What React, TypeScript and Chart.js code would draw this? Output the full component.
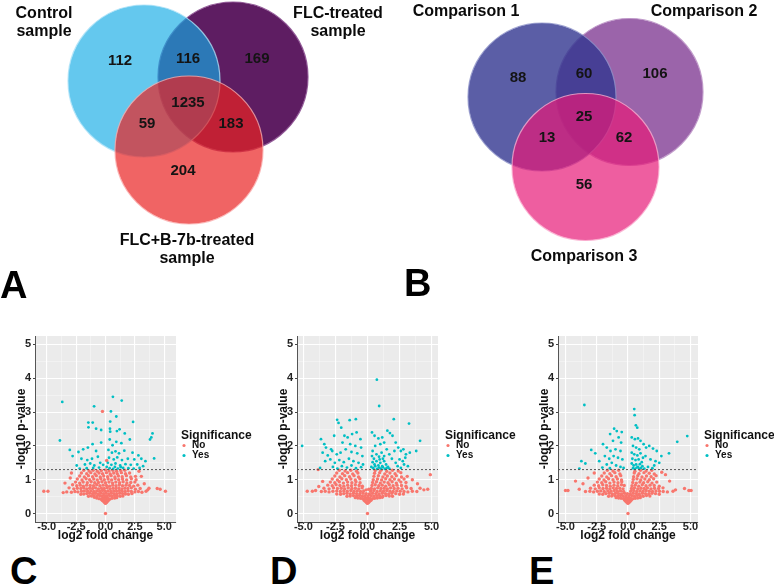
import React, { useEffect, useRef } from 'react';
import { Chart, registerables } from 'chart.js';

Chart.register(...registerables);

const FONT = '"Liberation Sans", Arial, Helvetica, sans-serif';

// ---------------- Venn data ----------------
const VENN_A_SETS = [['Control', 'sample'], ['FLC-treated', 'sample'], ['FLC+B-7b-treated', 'sample']];
// regions: Control only, Control∩FLC, FLC only, all three, Control∩FLC+B, FLC∩FLC+B, FLC+B only
const VENN_A_COUNTS = [112, 116, 169, 1235, 59, 183, 204];

const VENN_B_SETS = [['Comparison 1'], ['Comparison 2'], ['Comparison 3']];
// regions: C1 only, C1∩C2, C2 only, all three, C1∩C3, C2∩C3, C3 only
const VENN_B_COUNTS = [88, 60, 106, 25, 13, 62, 56];

// ---------------- Volcano data ----------------
const THRESHOLD = 1.3; // -log10(0.05)
const Y_TICKS = [0, 1, 2, 3, 4, 5];
const X_TICKS = [-5, -2.5, 0, 2.5, 5];
const LEGEND_TITLE = 'Significance';
const SIG_LABELS = ['No', 'Yes'];
const PANEL_LETTERS = ['A', 'B', 'C', 'D', 'E'];

// [x, y, x, y, ...]  (log2 fold change, -log10 p-value)
const C_YES = [
  -3.68, 3.30, 0.63, 3.45, 1.38, 3.34, -0.97, 3.17, 0.46, 3.02, 0.92, 2.87, -1.46, 2.69, -1.09, 2.69,
  0.40, 2.72, 2.35, 2.71, -1.45, 2.55, -0.80, 2.51, 0.38, 2.51, -0.37, 2.47, 1.20, 2.49, 0.40, 2.42,
  0.97, 2.44, 1.64, 2.37, 4.00, 2.37, 3.90, 2.25, 3.79, 2.19, -3.88, 2.16, -0.37, 2.10, 0.36, 2.19,
  0.92, 2.12, 1.35, 2.08, 2.07, 2.19, -1.10, 2.05, 0.60, 2.02, -3.04, 1.88, -2.80, 1.70, -2.30, 1.82,
  -1.90, 1.90, -1.50, 1.95, -0.80, 1.85, 0.25, 1.88, 0.55, 1.80, 0.85, 1.84, 1.15, 1.78, 1.60, 1.86,
  2.30, 1.80, 2.80, 1.72, 4.14, 1.63, -2.05, 1.62, -1.55, 1.58, -1.15, 1.62, -0.65, 1.68, 0.30, 1.65,
  0.70, 1.60, 1.00, 1.66, 1.40, 1.58, 1.90, 1.62, 2.45, 1.60, 3.05, 1.62, 3.40, 1.55, -2.45, 1.42,
  -1.75, 1.45, -1.30, 1.48, -0.95, 1.42, -0.45, 1.50, 0.20, 1.50, 0.50, 1.44, 0.85, 1.48, 1.25, 1.42,
  1.70, 1.46, 2.15, 1.44, 2.70, 1.45, 3.20, 1.40, -2.20, 1.33, -1.60, 1.34, -1.05, 1.35, -0.55, 1.36,
  0.35, 1.34, 0.65, 1.32, 1.05, 1.33, 1.50, 1.35, 1.95, 1.34, 2.40, 1.33, 2.90, 1.35, 0.10, 1.38,
  -0.20, 1.44, 0.80, 1.38, 1.30, 1.37,
];
const C_NO = [
  0.00, 0.30, -0.08, 0.33, 0.09, 0.33, -0.18, 0.36, 0.17, 0.36, -0.02, 0.37, -0.28, 0.39, 0.27, 0.40, 0.05, 0.41, -0.12, 0.42,
  -0.75, 0.46, -0.55, 0.44, -0.38, 0.43, -0.20, 0.46, 0.00, 0.47, 0.20, 0.45, 0.38, 0.43, 0.56, 0.45, 0.78, 0.46, 0.95, 0.47, -0.95, 0.48,
  -1.45, 0.51, -1.20, 0.52, -0.98, 0.53, -0.72, 0.52, -0.50, 0.53, -0.30, 0.51, -0.08, 0.53, 0.12, 0.52, 0.34, 0.53, 0.55, 0.51,
  0.78, 0.53, 1.00, 0.52, 1.25, 0.51, 1.48, 0.52,
  -2.10, 0.57, -1.85, 0.58, -1.60, 0.59, -1.35, 0.60, -1.10, 0.59, -0.85, 0.60, -0.62, 0.58, -0.40, 0.60, -0.18, 0.59, 0.05, 0.60,
  0.28, 0.58, 0.50, 0.60, 0.72, 0.59, 0.95, 0.58, 1.20, 0.60, 1.45, 0.59, 1.70, 0.58, 1.95, 0.57, 2.25, 0.59,
  -3.30, 0.64, -2.90, 0.63, -2.60, 0.65, -2.35, 0.64, -2.05, 0.66, -1.80, 0.67, -1.52, 0.66, -1.25, 0.67, -1.00, 0.65, -0.75, 0.67,
  -0.50, 0.66, -0.26, 0.68, -0.02, 0.66, 0.22, 0.67, 0.46, 0.65, 0.70, 0.67, 0.94, 0.66, 1.18, 0.68, 1.42, 0.66, 1.68, 0.65,
  1.93, 0.67, 2.20, 0.65, 2.50, 0.64, 2.80, 0.65, 3.10, 0.63, 3.45, 0.66,
  -3.10, 0.76, -2.70, 0.73, -2.40, 0.75, -2.10, 0.74, -1.85, 0.76, -1.60, 0.73, -1.35, 0.75, -1.10, 0.74, -0.85, 0.76, -0.60, 0.73,
  -0.35, 0.75, -0.10, 0.74, 0.15, 0.76, 0.40, 0.73, 0.65, 0.75, 0.90, 0.74, 1.15, 0.76, 1.40, 0.73, 1.65, 0.75, 1.90, 0.74,
  2.20, 0.76, 2.55, 0.72, 2.95, 0.74, 3.60, 0.70,
  -2.80, 0.85, -2.45, 0.82, -2.15, 0.84, -1.88, 0.81, -1.60, 0.84, -1.30, 0.83, -1.02, 0.82, -0.75, 0.85, -0.48, 0.82, -0.20, 0.84,
  0.08, 0.83, 0.35, 0.81, 0.62, 0.84, 0.90, 0.82, 1.18, 0.85, 1.45, 0.82, 1.75, 0.84, 2.05, 0.83, 2.40, 0.81, 2.75, 0.84,
  -2.55, 0.93, -2.20, 0.90, -1.90, 0.93, -1.55, 0.91, -1.22, 0.94, -0.92, 0.91, -0.60, 0.92, -0.30, 0.94, 0.00, 0.91, 0.30, 0.93,
  0.60, 0.90, 0.88, 0.93, 1.20, 0.91, 1.50, 0.94, 1.82, 0.90, 2.15, 0.92, 2.50, 0.93,
  -2.40, 1.02, -2.00, 0.99, -1.65, 1.03, -1.35, 1.00, -1.00, 1.02, -0.70, 0.99, -0.40, 1.03, -0.10, 1.00, 0.22, 1.02, 0.52, 0.99,
  0.82, 1.03, 1.12, 1.00, 1.45, 1.02, 1.80, 0.99, 2.20, 1.03, 2.60, 1.00,
  -2.20, 1.11, -1.80, 1.08, -1.45, 1.12, -1.10, 1.09, -0.78, 1.12, -0.45, 1.08, -0.15, 1.11, 0.18, 1.09, 0.48, 1.12, 0.80, 1.08,
  1.10, 1.11, 1.42, 1.09, 1.78, 1.12, 2.15, 1.08, 2.55, 1.10,
  -2.05, 1.20, -1.60, 1.18, -1.25, 1.21, -0.90, 1.17, -0.55, 1.20, -0.25, 1.18, 0.08, 1.21, 0.40, 1.17, 0.70, 1.20, 1.00, 1.18,
  1.35, 1.21, 1.70, 1.18, 2.05, 1.20,
  -1.85, 1.28, -1.40, 1.26, -1.05, 1.28, -0.70, 1.25, -0.35, 1.27, 0.00, 1.29, 0.30, 1.26, 0.62, 1.28, 0.95, 1.25, 1.30, 1.27, 1.65, 1.28,
  -5.25, 0.66, -4.90, 0.66, 4.40, 0.74, 4.65, 0.72, 5.10, 0.66, -3.60, 0.62, -3.45, 0.90, -3.00, 1.05, 3.30, 0.88, 3.70, 0.75,
  3.05, 1.10, -0.26, 3.02, 0.10, 1.57, 0.00, 0.00, -2.90, 1.20, 2.85, 1.25,
];

const D_YES = [
  0.73, 3.96, 0.91, 3.18, -2.37, 2.77, -2.26, 2.68, -1.39, 2.76, -0.91, 2.79, -2.05, 2.54, 2.05, 2.79, 3.24, 2.66,
  -5.10, 2.00, -3.63, 2.20, -3.37, 2.05, -3.24, 1.95, -2.84, 1.90,
  -1.80, 2.30, -1.55, 2.25, -1.20, 2.35, -0.85, 2.40, -0.55, 2.20, -2.60, 2.30, -1.95, 2.10, -1.35, 2.05, -0.95, 2.00, -0.50, 1.95,
  -3.50, 1.80, -3.10, 1.72, -2.75, 1.85, -2.40, 1.75, -2.10, 1.80, -1.70, 1.90, -1.25, 1.82, -0.80, 1.78, -0.40, 1.70,
  -3.30, 1.55, -2.90, 1.60, -2.55, 1.50, -2.20, 1.58, -1.85, 1.52, -1.45, 1.62, -1.10, 1.55, -0.70, 1.50, -0.35, 1.45,
  -3.70, 1.35, -2.70, 1.38, -2.35, 1.33, -2.00, 1.40, -1.60, 1.36, -1.25, 1.42, -0.90, 1.34, -0.50, 1.37,
  0.35, 2.40, 0.55, 2.30, 0.85, 2.22, 1.15, 2.25, 1.30, 2.10, 1.55, 2.45, 1.75, 2.38, 1.95, 2.30, 2.20, 2.10, 1.00, 2.05,
  0.60, 2.00, 0.40, 1.85,
  0.35, 1.70, 0.50, 1.62, 0.70, 1.75, 0.90, 1.68, 1.10, 1.80, 1.30, 1.70, 1.50, 1.90, 1.70, 1.75, 1.90, 1.62, 2.10, 1.85,
  0.40, 1.52, 0.55, 1.45, 0.70, 1.55, 0.85, 1.42, 1.00, 1.50, 1.15, 1.40, 1.30, 1.55, 1.45, 1.45, 1.60, 1.38,
  0.30, 1.38, 0.45, 1.34, 0.60, 1.40, 0.75, 1.32, 0.90, 1.36, 1.05, 1.33, 1.20, 1.37, 1.35, 1.32, 1.50, 1.35, 1.70, 1.33,
  0.95, 1.60, 1.20, 1.62,
  2.40, 1.95, 2.60, 1.85, 2.80, 1.90, 3.00, 1.75, 2.50, 1.60, 2.75, 1.55, 2.95, 1.65, 2.35, 1.40, 2.60, 1.35, 2.85, 1.45,
  3.15, 1.40, 2.20, 1.50, 3.80, 1.85, 4.10, 2.15, 3.30, 1.80,
];
const D_NO = [
  0.00, 0.30, -0.08, 0.33, 0.09, 0.33, -0.18, 0.36, 0.17, 0.36, -0.28, 0.40, 0.27, 0.39, 0.02, 0.40, -0.10, 0.43, 0.12, 0.43,
  -0.95, 0.47, -0.75, 0.46, -0.55, 0.45, -0.38, 0.44, -0.20, 0.46, 0.00, 0.47, 0.20, 0.45, 0.38, 0.44, 0.56, 0.45, 0.76, 0.46,
  0.96, 0.47, 1.15, 0.48,
  -1.60, 0.51, -1.35, 0.52, -1.10, 0.53, -0.85, 0.52, -0.62, 0.53, -0.40, 0.51, -0.18, 0.53, 0.05, 0.52, 0.28, 0.53, 0.50, 0.51,
  0.72, 0.53, 0.95, 0.52, 1.20, 0.51, 1.45, 0.53, 1.70, 0.52, 1.95, 0.51,
  -2.40, 0.58, -2.10, 0.57, -1.85, 0.59, -1.60, 0.60, -1.35, 0.58, -1.10, 0.60, -0.85, 0.59, -0.60, 0.58, -0.35, 0.60, -0.10, 0.59,
  0.15, 0.58, 0.40, 0.60, 0.65, 0.59, 0.90, 0.58, 1.15, 0.60, 1.40, 0.59, 1.65, 0.58, 1.90, 0.60, 2.20, 0.59, 2.50, 0.57, 2.80, 0.58,
  -3.60, 0.65, -3.30, 0.66, -3.00, 0.64, -2.70, 0.66, -2.40, 0.67, -2.12, 0.65, -1.85, 0.67, -1.58, 0.66, -1.30, 0.68, -1.05, 0.66,
  -0.80, 0.67, -0.55, 0.65, -0.30, 0.67, 0.25, 0.66, 0.50, 0.68, 0.75, 0.65, 1.00, 0.67, 1.25, 0.66, 1.50, 0.68, 1.75, 0.66,
  2.00, 0.65, 2.28, 0.67, 2.55, 0.66, 2.85, 0.65, 3.15, 0.64, 3.50, 0.66, 3.85, 0.65,
  -3.40, 0.75, -3.00, 0.73, -2.65, 0.76, -2.35, 0.74, -2.05, 0.75, -1.78, 0.73, -1.50, 0.76, -1.22, 0.74, -0.95, 0.75, -0.68, 0.73,
  -0.42, 0.76, 0.30, 0.74, 0.55, 0.73, 0.80, 0.76, 1.05, 0.74, 1.30, 0.75, 1.55, 0.73, 1.80, 0.76, 2.08, 0.74, 2.38, 0.75,
  2.70, 0.73, 3.05, 0.76, 3.40, 0.74,
  -3.10, 0.84, -2.75, 0.82, -2.45, 0.85, -2.15, 0.83, -1.85, 0.81, -1.55, 0.84, -1.25, 0.82, -0.95, 0.85, -0.65, 0.83, -0.40, 0.81,
  0.35, 0.83, 0.60, 0.85, 0.88, 0.82, 1.15, 0.84, 1.42, 0.81, 1.70, 0.85, 2.00, 0.82, 2.30, 0.84, 2.65, 0.83, 3.00, 0.81,
  -2.90, 0.93, -2.55, 0.91, -2.20, 0.94, -1.88, 0.90, -1.55, 0.93, -1.22, 0.91, -0.90, 0.94, -0.58, 0.91, 0.40, 0.92, 0.70, 0.94,
  1.00, 0.90, 1.30, 0.93, 1.60, 0.91, 1.92, 0.94, 2.25, 0.90, 2.60, 0.93, 3.00, 0.92,
  -2.75, 1.02, -2.35, 0.99, -2.00, 1.03, -1.65, 1.00, -1.30, 1.02, -0.95, 0.99, -0.60, 1.03, 0.45, 1.00, 0.78, 1.02, 1.10, 0.99,
  1.42, 1.03, 1.75, 1.00, 2.10, 1.02, 2.45, 0.99, 2.85, 1.02,
  -2.55, 1.11, -2.15, 1.08, -1.78, 1.12, -1.40, 1.09, -1.05, 1.12, -0.70, 1.08, 0.50, 1.10, 0.85, 1.12, 1.20, 1.08, 1.55, 1.11,
  1.90, 1.09, 2.25, 1.12, 2.65, 1.08, 3.10, 1.10,
  -2.40, 1.20, -1.95, 1.18, -1.55, 1.21, -1.15, 1.17, -0.75, 1.20, 0.55, 1.19, 0.95, 1.21, 1.35, 1.17, 1.75, 1.20, 2.15, 1.18, 2.60, 1.21,
  -2.20, 1.28, -1.75, 1.26, -1.30, 1.28, -0.85, 1.25, 0.60, 1.27, 1.05, 1.28, 1.50, 1.25, 1.95, 1.28, 2.40, 1.26,
  -4.70, 0.66, -4.30, 0.66, -4.05, 0.68, -3.85, 1.30, -3.80, 0.80, -3.50, 0.95, 4.10, 0.75, 4.40, 0.70, 4.70, 0.72, 4.90, 1.15,
  3.50, 1.00, 3.90, 0.88, 0.00, 0.00, -0.10, 0.70, 0.10, 0.72,
];

const E_YES = [
  -3.49, 3.21, 0.50, 3.09, 0.53, 2.91, 0.63, 2.61, 0.74, 2.54, -1.11, 2.51, -0.90, 2.44, -0.50, 2.41, -1.43, 2.35, -0.75, 2.25,
  -1.20, 2.15, -0.55, 2.10, 3.94, 2.12, 4.74, 2.29, -2.94, 1.88, -2.62, 1.78, -3.73, 1.55, -3.41, 1.48, -3.89, 1.33, 3.28, 1.78,
  2.67, 1.70,
  0.30, 2.25, 0.55, 2.20, 0.80, 2.22, 1.00, 2.15, 1.25, 2.05, 0.40, 2.00, 0.65, 1.95, 0.90, 1.90, 1.45, 1.95, 1.70, 2.00,
  2.00, 1.92, 2.30, 1.85,
  0.30, 1.80, 0.50, 1.75, 0.75, 1.72, 1.00, 1.78, 1.20, 1.65, 0.35, 1.62, 0.60, 1.58, 0.85, 1.60, 1.10, 1.52, 1.40, 1.70,
  1.80, 1.60, 2.20, 1.55, 2.50, 1.50,
  0.30, 1.48, 0.45, 1.42, 0.65, 1.45, 0.80, 1.38, 0.95, 1.46, 1.15, 1.40, 0.40, 1.34, 0.55, 1.32, 0.70, 1.36, 0.90, 1.33,
  1.05, 1.35, 1.30, 1.33, 1.60, 1.38, 1.95, 1.34, 2.10, 1.42,
  -2.00, 2.05, -1.70, 1.95, -1.40, 1.85, -1.00, 1.90, -0.60, 1.85, -1.85, 1.70, -1.50, 1.62, -1.15, 1.70, -0.80, 1.65, -0.45, 1.60,
  -2.30, 1.55, -1.70, 1.45, -1.30, 1.50, -0.95, 1.42, -0.60, 1.38, -2.05, 1.36, -1.45, 1.34, -0.35, 1.35,
];
const E_NO = [
  0.00, 0.30, -0.08, 0.33, 0.09, 0.33, -0.18, 0.36, 0.18, 0.36, -0.28, 0.40, 0.27, 0.40, 0.02, 0.38, -0.12, 0.43, 0.13, 0.43,
  -0.95, 0.47, -0.75, 0.46, -0.55, 0.45, -0.35, 0.44, -0.18, 0.46, 0.02, 0.47, 0.22, 0.45, 0.40, 0.44, 0.58, 0.45, 0.78, 0.46, 0.98, 0.47,
  -1.55, 0.51, -1.30, 0.52, -1.05, 0.53, -0.82, 0.52, -0.60, 0.53, -0.38, 0.51, -0.15, 0.53, 0.08, 0.52, 0.30, 0.53, 0.52, 0.51,
  0.75, 0.53, 0.98, 0.52, 1.22, 0.51, 1.48, 0.53, 1.75, 0.52,
  -2.30, 0.58, -2.02, 0.57, -1.76, 0.59, -1.50, 0.60, -1.25, 0.58, -1.00, 0.60, -0.76, 0.59, -0.52, 0.58, -0.28, 0.60, -0.05, 0.59,
  0.18, 0.58, 0.42, 0.60, 0.66, 0.59, 0.90, 0.58, 1.15, 0.60, 1.40, 0.59, 1.66, 0.58, 1.92, 0.60, 2.20, 0.59, 2.50, 0.57,
  -3.40, 0.65, -3.05, 0.66, -2.75, 0.64, -2.45, 0.66, -2.18, 0.67, -1.90, 0.65, -1.62, 0.67, -1.36, 0.66, -1.10, 0.68, -0.85, 0.66,
  -0.60, 0.67, -0.35, 0.65, 0.22, 0.66, 0.46, 0.68, 0.70, 0.65, 0.95, 0.67, 1.20, 0.66, 1.45, 0.68, 1.70, 0.66, 1.96, 0.65,
  2.24, 0.67, 2.52, 0.66, 2.82, 0.65, 3.15, 0.64, 3.60, 0.66,
  -3.00, 0.75, -2.62, 0.73, -2.30, 0.76, -2.00, 0.74, -1.72, 0.75, -1.45, 0.73, -1.18, 0.76, -0.92, 0.74, -0.66, 0.75, -0.40, 0.73,
  0.28, 0.74, 0.52, 0.76, 0.78, 0.73, 1.04, 0.75, 1.30, 0.74, 1.56, 0.76, 1.84, 0.73, 2.12, 0.75, 2.45, 0.74, 2.80, 0.76,
  -2.70, 0.84, -2.35, 0.82, -2.02, 0.85, -1.72, 0.83, -1.42, 0.81, -1.12, 0.84, -0.82, 0.82, -0.52, 0.85, -0.30, 0.83, 0.32, 0.82,
  0.58, 0.84, 0.86, 0.81, 1.14, 0.85, 1.44, 0.82, 1.76, 0.84, 2.10, 0.83, 2.50, 0.81,
  -2.45, 0.93, -2.10, 0.91, -1.78, 0.94, -1.45, 0.90, -1.12, 0.93, -0.80, 0.91, -0.50, 0.94, 0.38, 0.92, 0.66, 0.90, 0.95, 0.93,
  1.25, 0.91, 1.58, 0.94, 1.92, 0.90, 2.30, 0.93,
  -2.30, 1.02, -1.92, 0.99, -1.55, 1.03, -1.20, 1.00, -0.85, 1.02, -0.52, 0.99, 0.42, 1.01, 0.72, 1.03, 1.02, 0.99, 1.35, 1.02,
  1.70, 1.00, 2.05, 1.03,
  -2.10, 1.11, -1.70, 1.08, -1.32, 1.12, -0.95, 1.09, -0.58, 1.12, 0.45, 1.09, 0.78, 1.12, 1.12, 1.08, 1.48, 1.11, 1.85, 1.09, 2.25, 1.12,
  -1.90, 1.20, -1.45, 1.18, -1.05, 1.21, -0.65, 1.17, 0.50, 1.20, 0.88, 1.18, 1.28, 1.21, 1.70, 1.19, 2.10, 1.17,
  -1.65, 1.28, -1.20, 1.26, -0.75, 1.28, 0.55, 1.25, 1.00, 1.28, 1.45, 1.26, 1.90, 1.28,
  -5.00, 0.68, -4.80, 0.68, -4.20, 0.96, -3.90, 0.72, -3.60, 0.88, -3.20, 1.05, 4.52, 0.74, 4.87, 0.68, 5.05, 0.68, 3.33, 0.96,
  3.00, 1.15, 3.80, 0.70, 0.00, 0.00, 2.70, 1.22, -2.70, 1.20,
];

// ---------------- Layout (positions / styles, not data) ----------------
const VENN_A_LAYOUT = {
  left: 0, top: 0, width: 390, height: 272,
  circles: [
    { cx: 144, cy: 81, r: 76, fill: 'rgba(17,171,229,0.65)', stroke: 'rgba(170,225,248,0.8)' },
    { cx: 233, cy: 77, r: 75, fill: 'rgb(94,29,98)', stroke: 'rgba(140,80,145,0.9)' },
    { cx: 189, cy: 150, r: 74, fill: 'rgba(234,34,34,0.7)', stroke: 'rgba(250,170,170,0.8)' },
  ],
  topToBottom: [2, 0, 1],
  countPos: [[120, 61], [188, 59], [257, 59], [188, 103], [147, 124], [231, 124], [183, 171]],
  labelPos: [[44, 14], [338, 14], [187, 241]],
  lineGap: 18,
};
const VENN_B_LAYOUT = {
  left: 390, top: 0, width: 384, height: 272,
  circles: [
    { cx: 152, cy: 97, r: 74, fill: 'rgba(50,54,144,0.8)', stroke: 'rgba(140,145,200,0.8)' },
    { cx: 239.5, cy: 92, r: 73.5, fill: 'rgb(155,100,170)', stroke: 'rgba(190,150,200,0.9)' },
    { cx: 195.5, cy: 167, r: 73.5, fill: 'rgba(231,26,119,0.7)', stroke: 'rgba(250,170,205,0.8)' },
  ],
  topToBottom: [2, 0, 1],
  countPos: [[128, 78], [194, 74], [265, 74], [194, 117], [157, 138], [234, 138], [194, 185]],
  labelPos: [[76, 12], [314, 12], [194, 257]],
  lineGap: 18,
};

const VOLCANO_SPECS = [
  { left: 0, width: 262, xMin: -6.0, xMax: 6.0, legendX: 181, no: C_NO, yes: C_YES },
  { left: 262, width: 262, xMin: -5.5, xMax: 5.5, legendX: 183, no: D_NO, yes: D_YES },
  { left: 523, width: 251, xMin: -5.6, xMax: 5.6, legendX: 181, no: E_NO, yes: E_YES },
];
const VOLCANO_TOP = 328;
const VOLCANO_HEIGHT = 217;
const PANEL_RIGHT_PAD = [86, 86, 76];

const LETTER_POS = [[0, 266], [404, 264], [10, 552], [270, 552], [529, 552]];

// ---------------- helpers ----------------
const toPoints = (arr: number[]) => {
  const out: { x: number; y: number }[] = [];
  for (let i = 0; i < arr.length; i += 2) out.push({ x: arr[i], y: arr[i + 1] });
  return out;
};
const near = (a: number, b: number) => Math.abs(a - b) < 1e-6;
const inList = (v: number, list: number[]) => list.some((t) => near(t, v));
const withMinors = (major: number[]) => {
  const vals = [...major];
  for (let i = 0; i < major.length - 1; i++) vals.push((major[i] + major[i + 1]) / 2);
  return vals.sort((a, b) => a - b);
};

function VennChart({ layout, sets, counts }: any) {
  const ref = useRef<HTMLCanvasElement>(null);
  useEffect(() => {
    const textPlugin = {
      id: 'vennText',
      afterDatasetsDraw(chart: any) {
        const { ctx } = chart;
        const sx = chart.scales.x;
        const sy = chart.scales.y;
        ctx.save();
        ctx.fillStyle = '#141414';
        ctx.textAlign = 'center';
        ctx.textBaseline = 'middle';
        ctx.font = `bold 15px ${FONT}`;
        counts.forEach((n: number, i: number) => {
          const [px, py] = layout.countPos[i];
          ctx.fillText(String(n), sx.getPixelForValue(px), sy.getPixelForValue(py));
        });
        ctx.font = `bold 16px ${FONT}`;
        ctx.fillStyle = '#0a0a0a';
        sets.forEach((lines: string[], i: number) => {
          const [px, py] = layout.labelPos[i];
          lines.forEach((t, j) => {
            ctx.fillText(t, sx.getPixelForValue(px), sy.getPixelForValue(py + j * layout.lineGap));
          });
        });
        ctx.restore();
      },
    };
    const chart = new Chart(ref.current as HTMLCanvasElement, {
      type: 'bubble',
      data: {
        datasets: layout.topToBottom.map((ci: number) => {
          const c = layout.circles[ci];
          return {
            label: sets[ci].join(' '),
            data: [{ x: c.cx, y: c.cy, r: c.r }],
            backgroundColor: c.fill,
            borderColor: c.stroke,
            borderWidth: 1.2,
            hoverRadius: 0,
            hoverBorderWidth: 1.2,
            clip: false,
          };
        }),
      },
      options: {
        animation: false,
        responsive: false,
        maintainAspectRatio: false,
        events: [],
        layout: { padding: 0, autoPadding: false },
        scales: {
          x: { type: 'linear', display: false, min: 0, max: layout.width },
          y: { type: 'linear', display: false, min: 0, max: layout.height, reverse: true },
        },
        plugins: { legend: { display: false }, tooltip: { enabled: false } },
      },
      plugins: [textPlugin],
    } as any);
    return () => chart.destroy();
  }, []);
  return (
    <canvas
      ref={ref}
      width={layout.width}
      height={layout.height}
      style={{ position: 'absolute', left: layout.left, top: layout.top, width: layout.width, height: layout.height }}
    />
  );
}

const panelBg = {
  id: 'panelBg',
  beforeDraw(chart: any) {
    const { ctx, chartArea: a } = chart;
    ctx.save();
    ctx.fillStyle = '#EBEBEB';
    ctx.fillRect(a.left, a.top, a.right - a.left, a.bottom - a.top);
    ctx.restore();
  },
};

function Volcano({ spec, rightPad }: any) {
  const ref = useRef<HTMLCanvasElement>(null);
  useEffect(() => {
    const legendPlace = {
      id: 'legendPlace',
      beforeLayout(chart: any) {
        const lg = chart.legend;
        if (lg && !lg.__fixed) {
          const fit = lg.fit.bind(lg);
          lg.fit = () => {
            fit();
            lg.width = rightPad;
          };
          lg.__fixed = true;
        }
      },
      afterLayout(chart: any) {
        const lg = chart.legend;
        if (!lg) return;
        lg.left = spec.legendX;
        lg.right = spec.width;
        lg.top = 87;
        lg.bottom = 87 + 60;
      },
    };
    const gridColor = (major: number[]) => (ctx: any) =>
      ctx.tick && inList(ctx.tick.value, major) ? '#FFFFFF' : 'rgba(255,255,255,0.6)';
    const gridWidth = (major: number[]) => (ctx: any) => (ctx.tick && inList(ctx.tick.value, major) ? 1.1 : 0.6);
    const tickColor = (major: number[]) => (ctx: any) =>
      ctx.tick && inList(ctx.tick.value, major) ? '#444' : 'rgba(0,0,0,0)';
    const tickFont = { family: FONT, size: 11, weight: 'bold', lineHeight: 1 };
    const titleFont = { family: FONT, size: 12, weight: 'bold', lineHeight: 1 };

    const chart = new Chart(ref.current as HTMLCanvasElement, {
      type: 'scatter',
      data: {
        datasets: [
          {
            type: 'line',
            label: 'threshold',
            data: [{ x: spec.xMin, y: THRESHOLD }, { x: spec.xMax, y: THRESHOLD }],
            borderColor: '#555',
            borderWidth: 1,
            borderDash: [2, 2],
            pointRadius: 0,
            fill: false,
          },
          {
            label: SIG_LABELS[1],
            data: toPoints(spec.yes),
            backgroundColor: '#00BFC4',
            borderWidth: 0,
            pointRadius: 1.4,
            pointHoverRadius: 1.4,
          },
          {
            label: SIG_LABELS[0],
            data: toPoints(spec.no),
            backgroundColor: '#F8766D',
            borderWidth: 0,
            pointRadius: 1.7,
            pointHoverRadius: 1.7,
          },
        ],
      },
      options: {
        animation: false,
        responsive: false,
        maintainAspectRatio: false,
        events: [],
        layout: { padding: { top: 8, left: 0, right: 0, bottom: 0 }, autoPadding: false },
        scales: {
          x: {
            type: 'linear',
            min: spec.xMin,
            max: spec.xMax,
            afterBuildTicks: (s: any) => {
              s.ticks = withMinors(X_TICKS).map((v) => ({ value: v }));
            },
            afterFit: (s: any) => {
              s.height = 23;
            },
            ticks: {
              autoSkip: false,
              maxRotation: 0,
              minRotation: 0,
              padding: -3,
              color: '#222',
              font: tickFont,
              callback: (v: any) => (inList(Number(v), X_TICKS) ? Number(v).toFixed(1) : ''),
            },
            grid: { color: gridColor(X_TICKS), lineWidth: gridWidth(X_TICKS), tickLength: 2, tickColor: tickColor(X_TICKS) },
            border: { display: true, color: '#555', width: 1 },
            title: { display: true, text: 'log2 fold change', color: '#111', font: titleFont, padding: { top: 0, bottom: 3 } },
          },
          y: {
            type: 'linear',
            min: -0.25,
            max: 5.25,
            afterBuildTicks: (s: any) => {
              s.ticks = withMinors(Y_TICKS).map((v) => ({ value: v }));
            },
            afterFit: (s: any) => {
              s.width = 35;
            },
            ticks: {
              autoSkip: false,
              padding: 2,
              color: '#222',
              font: tickFont,
              callback: (v: any) => (inList(Number(v), Y_TICKS) ? String(v) : ''),
            },
            grid: { color: gridColor(Y_TICKS), lineWidth: gridWidth(Y_TICKS), tickLength: 2, tickColor: tickColor(Y_TICKS) },
            border: { display: true, color: '#555', width: 1 },
            title: { display: true, text: '-log10 p-value', color: '#111', font: titleFont, padding: { top: 16, bottom: 0 } },
          },
        },
        plugins: {
          tooltip: { enabled: false },
          legend: {
            display: true,
            position: 'right',
            reverse: true,
            title: {
              display: true,
              text: LEGEND_TITLE,
              position: 'start',
              color: '#111',
              font: titleFont,
              padding: { top: 0, bottom: -1 },
            },
            labels: {
              filter: (item: any) => SIG_LABELS.includes(item.text),
              usePointStyle: true,
              pointStyle: 'circle',
              boxWidth: 6,
              boxHeight: 2.2,
              padding: 0,
              color: '#111',
              font: { family: FONT, size: 10, weight: 'bold' },
            },
          },
        },
      },
      plugins: [panelBg, legendPlace],
    } as any);
    return () => chart.destroy();
  }, []);
  return (
    <canvas
      ref={ref}
      width={spec.width}
      height={VOLCANO_HEIGHT}
      style={{ position: 'absolute', left: spec.left, top: VOLCANO_TOP, width: spec.width, height: VOLCANO_HEIGHT }}
    />
  );
}

export default function App() {
  return (
    <div
      style={{
        position: 'fixed',
        left: 0,
        top: 0,
        width: 774,
        height: 588,
        background: '#ffffff',
        overflow: 'hidden',
        fontFamily: FONT,
      }}
    >
      <VennChart layout={VENN_A_LAYOUT} sets={VENN_A_SETS} counts={VENN_A_COUNTS} />
      <VennChart layout={VENN_B_LAYOUT} sets={VENN_B_SETS} counts={VENN_B_COUNTS} />
      {VOLCANO_SPECS.map((s, i) => (
        <Volcano key={i} spec={s} rightPad={PANEL_RIGHT_PAD[i]} />
      ))}
      {PANEL_LETTERS.map((t, i) => (
        <div
          key={t}
          style={{
            position: 'absolute',
            left: LETTER_POS[i][0],
            top: LETTER_POS[i][1],
            fontSize: 38,
            lineHeight: '38px',
            fontWeight: 'bold',
            color: '#000',
            fontFamily: FONT,
          }}
        >
          {t}
        </div>
      ))}
    </div>
  );
}
